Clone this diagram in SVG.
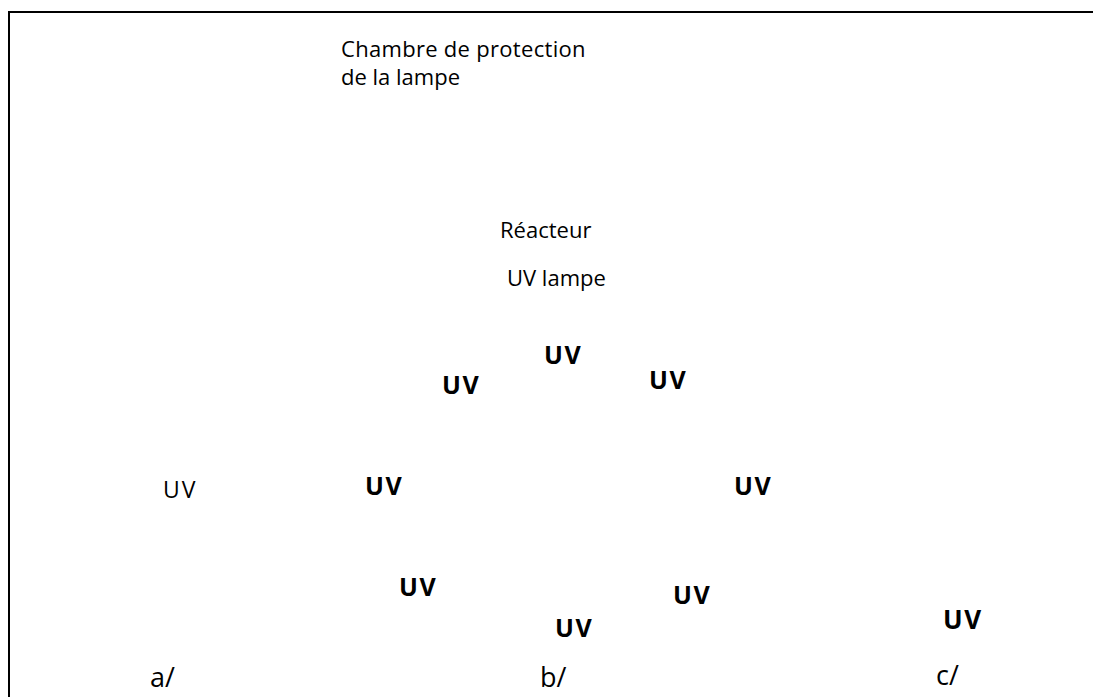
<svg xmlns="http://www.w3.org/2000/svg" width="1093" height="697" viewBox="0 0 1093 697">
<style>
.t{font-family:"Open Sans","Liberation Sans",sans-serif;font-size:22px;fill:#000}
.b{font-family:"Open Sans","Liberation Sans",sans-serif;font-size:25px;font-weight:bold;letter-spacing:1.5px;fill:#000}
.l{font-family:"Open Sans","Liberation Sans",sans-serif;font-size:27px;fill:#000}
</style>
<rect x="0" y="0" width="1093" height="697" fill="#fff"/>
<rect id="frame" x="9" y="12" width="1100" height="700" fill="none" stroke="#000" stroke-width="2"/>
<g id="labels">
<text class="t" x="341" y="57" style="letter-spacing:0.3px">Chambre de protection</text>
<text class="t" x="341" y="85">de la lampe</text>
<text class="t" x="500" y="238">Réacteur</text>
<text class="t" x="507" y="286">UV lampe</text>
<text class="t" x="163" y="498" style="font-size:23px;letter-spacing:2px">UV</text>
</g>
<g id="uv">
<text class="b" x="544" y="364">UV</text>
<text class="b" x="442" y="394">UV</text>
<text class="b" x="649" y="389">UV</text>
<text class="b" x="365" y="495">UV</text>
<text class="b" x="734" y="495">UV</text>
<text class="b" x="399" y="596">UV</text>
<text class="b" x="673" y="604">UV</text>
<text class="b" x="555" y="637">UV</text>
<text class="b" x="943" y="629" style="font-size:26px">UV</text>
</g>
<g id="captions">
<text class="l" x="150" y="687">a/</text>
<text class="l" x="540" y="687">b/</text>
<text class="l" x="936" y="685">c/</text>
</g>
</svg>
